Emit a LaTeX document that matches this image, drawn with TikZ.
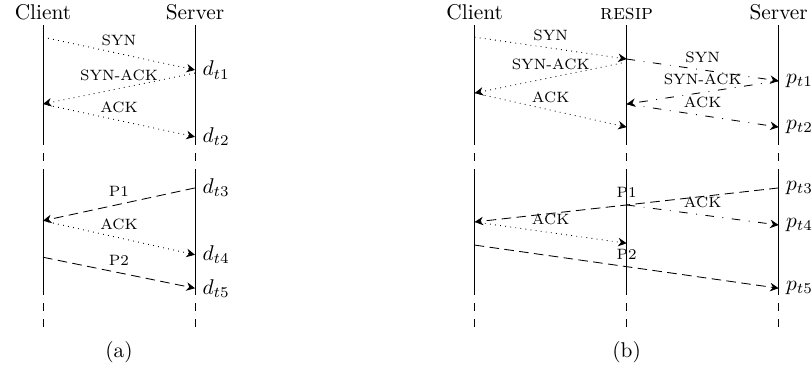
\documentclass[tikz,border=0pt]{standalone}
\usepackage{tikz}
\usetikzlibrary{arrows.meta,positioning,calc}

\begin{document}
\begin{tikzpicture}[
  >={Stealth[length=4pt,width=4pt]},
  lbl/.style={font=\scriptsize,midway,above},
  tcp/.style={->,dotted},
  pkt/.style={->,dash pattern=on 4.5pt off 2.5pt},
  fwd/.style={->,dash pattern=on 4pt off 4pt on \pgflinewidth off 4pt},
  brk/.style={dash pattern=on 3.8pt off 3.8pt,dash phase=3.8pt},
  head/.style={anchor=south,inner sep=2pt},
  tm/.style={right}]
\useasboundingbox (-0.707,0.411) rectangle (12.648,-5.757);
% the five time lines, each broken twice
\foreach \x/\n in {0/lc, 2.5/ls, 7.1/rc, 9.6/rr, 12.1/rs} {
  \coordinate (\n) at (\x,0);
  \draw (\x,0) -- (\x,-1.97);
  \draw[brk] (\x,-1.97) -- (\x,-2.37);
  \draw (\x,-2.37) -- (\x,-4.44);
  \draw[brk] (\x,-4.44) -- (\x,-4.97);
}
\node[head] (lcT) at (lc) {Client};
\node[head] (lsT) at (ls) {Server};
\node[head] (rcT) at (rc) {Client};
\node[head] (rrT) at (rr) {\textsc{resip}};
\node[head] (rsT) at (rs) {Server};

% (a) direct connection
\coordinate (lc1) at (0,-0.20);
\coordinate (lc2) at (0,-1.30);
\coordinate (lc3) at (0,-3.22);
\coordinate (lc4) at (0,-3.82);
\coordinate (ls1) at (2.5,-0.74);
\coordinate (ls2) at (2.5,-0.79);
\coordinate (ls3) at (2.5,-1.84);
\coordinate (ls4) at (2.5,-2.68);
\coordinate (ls5) at (2.5,-3.78);
\coordinate (ls6) at (2.5,-4.33);
\draw[tcp] (lc1) -- node[lbl] (synA) {SYN} (ls1);
\draw[tcp] (ls2) -- node[lbl] (synackA) {SYN-ACK} (lc2);
\draw[tcp] (lc2) -- node[lbl] (ackA) {ACK} (ls3);
\draw[pkt] (ls4) -- node[lbl] (pOneA) {P1} (lc3);
\draw[tcp] (lc3) -- node[lbl] (ackA2) {ACK} (ls5);
\draw[pkt] (lc4) -- node[lbl] (pTwoA) {P2} (ls6);
\node[tm] (dt1) at (ls1) {$d_{t1}$};
\node[tm] (dt2) at (ls3) {$d_{t2}$};
\node[tm] (dt3) at (ls4) {$d_{t3}$};
\node[tm] (dt4) at (ls5) {$d_{t4}$};
\node[tm] (dt5) at (ls6) {$d_{t5}$};
\node (capA) at (1.25,-5.38) {(a)};

% (b) through the relay
\coordinate (rc1) at (7.1,-0.20);
\coordinate (rc2) at (7.1,-1.12);
\coordinate (rc3) at (7.1,-3.24);
\coordinate (rc4) at (7.1,-3.62);
\coordinate (rr1) at (9.6,-0.56);
\coordinate (rr2) at (9.6,-0.61);
\coordinate (rr3) at (9.6,-1.30);
\coordinate (rr4) at (9.6,-1.68);
\coordinate (rr5) at (9.6,-2.96);
\coordinate (rr6) at (9.6,-3.59);
\coordinate (rs1) at (12.1,-0.92);
\coordinate (rs2) at (12.1,-1.68);
\coordinate (rs3) at (12.1,-2.68);
\coordinate (rs4) at (12.1,-3.29);
\coordinate (rs5) at (12.1,-4.33);
\draw[tcp] (rc1) -- node[lbl] (synB) {SYN} (rr1);
\draw[tcp] (rr2) -- node[lbl] (synackB) {SYN-ACK} (rc2);
\draw[tcp] (rc2) -- node[lbl] (ackB) {ACK} (rr4);
\draw[fwd] (rr1) -- node[lbl] (synB2) {SYN} (rs1);
\draw[fwd] (rs1) -- node[lbl] (synackB2) {SYN-ACK} (rr3);
\draw[fwd] (rr3) -- node[lbl] (ackB2) {ACK} (rs2);
\draw[pkt] (rs3) -- node[lbl] (pOneB) {P1} (rc3);
\draw[fwd] (rr5) -- node[lbl] (ackB3) {ACK} (rs4);
\draw[tcp] (rc3) -- node[lbl] (ackB4) {ACK} (rr6);
\draw[pkt] (rc4) -- node[lbl] (pTwoB) {P2} (rs5);
\node[tm] (pt1) at (rs1) {$p_{t1}$};
\node[tm] (pt2) at (rs2) {$p_{t2}$};
\node[tm] (pt3) at (rs3) {$p_{t3}$};
\node[tm] (pt4) at (rs4) {$p_{t4}$};
\node[tm] (pt5) at (rs5) {$p_{t5}$};
\node (capB) at (9.6,-5.38) {(b)};
\end{tikzpicture}
\end{document}
